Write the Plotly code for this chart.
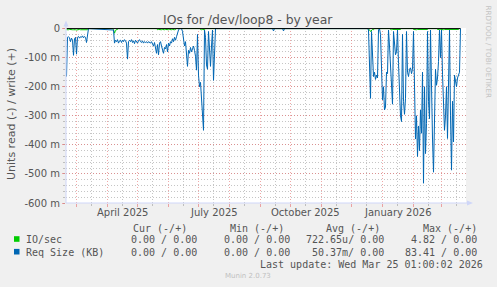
import plotly.graph_objects as go
import pandas as pd

# ---------------- data ----------------
title_text = "IOs for /dev/loop8 - by year"
y_title = "Units read (-) / write (+)"
end_time = pd.Timestamp("2026-03-25 01:00:02")
span_days = 400
start_time = end_time - pd.Timedelta(days=span_days)

y_tick_vals = [0, -100, -200, -300, -400, -500, -600]
y_tick_text = ["0", "-100 m", "-200 m", "-300 m", "-400 m", "-500 m", "-600 m"]
x_label_dates = ["2025-04-16", "2025-07-16", "2025-10-16", "2026-01-16"]
x_label_text = ["April 2025", "July 2025", "October 2025", "January 2026"]

# Req Size (KB), read direction (milli-units), daily points; segment start days
req_starts = [0, 47, 114, 206, 216, 300]
req_a = [-165, -30, -28, -32, -45, -33, -40, -92, -35, -30, -88, -30, -27, -33,
         -28, -30, -25, -32, -27, -30, -48, -20, 0]
req_b = [-5, -50, -40, -45, -38, -50, -42, -40, -48, -40, -45, -38, -42, -50,
         -105, -45, -40, -45, -38, -48, -42, -52, -40, -45, -50, -42, -38, -45,
         -48, -42, -50, -45, -48, -45, -50, -45, -48, -50, -45, -55, -60, -48,
         -70, -85, -55, -90, -50, -45, -60, -75, -85, -65, -70, -55, -80, -50,
         -60, -45, -50, -35, -45, -30, -40, -28, -15, -5, 0]
req_c = [0, 0, -10, -40, -60, -45, -90, -130, -75, -85, -65, -80, -70, -60,
         -75, -95, -143, -20, -160, -200, -185, -240, -300, -350, -5, -30,
         -125, -140, -10, -100, -130, -60, -5, -178, -90, 0]
req_d = [0, -8, 0]
req_e = [0, -8, 0]
req_f = [0, 0, -5, -120, -240, -10, -130, -165, -150, -175, -160, -170, -5, 0,
         -20, -120, -245, -200, -280, -270, -150, -155, -5, -60, -140, -200,
         -260, -10, -60, -90, -80, -5, -120, -245, -300, -320, -20, -250, -295,
         -240, -10, -150, -165, -140, -135, -155, -140, -10, -200, -380, -300,
         -440, -335, -420, -280, -360, -150, -532, -200, -430, -326, -10, -250,
         -310, -5, -260, -380, -494, -300, -140, -195, -170, -113, -5, -100, -5,
         -157, -250, -350, -300, -200, -378, -150, -5, -300, -487, -250, -390,
         -160, -180, -200, -170, -160, -150, 0]
req_segments = [req_a, req_b, req_c, req_d, req_e, req_f]

# IO/sec, read direction (milli-units); segment start days
io_starts = [0, 46, 90, 133, 301, 323, 346, 370]
io_a = [-4, -5, -4, -3, -4, -5, -4, -4, -3, -4, -5, -4, -4, -3, -4, -4, -5, -4,
        -3, -4, -4, -4, 0]
io_b = [0, -4, -16, -6, -4, -3, 0]
io_c = [0, -4, -3, -4, -5, -4, -3, -4, -4, -3, -4, -5, -4, -3, -4, -4, -3, -4,
        -4, -3, 0]
io_d = [0, -3, -4, -3, -3, -4, 0]
io_e = [0, -3, -4, -10, -4, -3, -4, 0]
io_f = [0, -3, -4, -3, -3, -4, -3, -3, -4, -3, -4, -3, 0]
io_g = [0, -3, -4, -3, -4, -3, -3, -4, -3, -4, -3, -3, -4, -3, -4, -3, 0]
io_h = [0, -3, -4, -3, -3, -4, -3, -4, -3, -3, -4, -3, -4, -3, -3, -4, -3, -4,
        -3, -3, -4, -3, -3, 0]
io_segments = [io_a, io_b, io_c, io_d, io_e, io_f, io_g, io_h]

legend_headers = ["Cur (-/+)", "Min (-/+)", "Avg (-/+)", "Max (-/+)"]
legend_names = ["IO/sec", "Req Size (KB)"]
legend_rows = [
    ["0.00 / 0.00", "0.00 / 0.00", "722.65u/ 0.00", "4.82 / 0.00"],
    ["0.00 / 0.00", "0.00 / 0.00", "50.37m/ 0.00", "83.41 / 0.00"],
]
colors = ["#00cc00", "#0066b3"]
last_update = "Last update: Wed Mar 25 01:00:02 2026"
munin_version = "Munin 2.0.73"
side_text = "RRDTOOL / TOBI OETIKER"


def build(starts, segments):
    xs, ys = [], []
    for s, seg in zip(starts, segments):
        for i, v in enumerate(seg):
            xs.append(start_time + pd.Timedelta(days=s + i + 0.5))
            ys.append(v)
    return xs, ys


io_x, io_y = build(io_starts, io_segments)
req_x, req_y = build(req_starts, req_segments)

# ---------------- layout helpers ----------------
W, H = 497, 287
L, R, T, B = 66, 466, 28, 203


def px(x):
    return (x - L) / (R - L)


def py(y):
    return (B - y) / (B - T)


FONT = "DejaVu Sans"
MONO = "DejaVu Sans Mono"
TXT = "#555555"
MAJ = "rgba(230,110,110,0.6)"
MINC = "rgba(150,150,150,0.55)"
AXC = "#cfd6f8"

fig = go.Figure()
fig.add_trace(go.Scatter(x=io_x, y=io_y, mode="lines",
                         line=dict(color=colors[0], width=1), hoverinfo="skip"))
fig.add_trace(go.Scatter(x=req_x, y=req_y, mode="lines",
                         line=dict(color=colors[1], width=1), hoverinfo="skip"))

month_starts = pd.date_range("2025-03-01", "2026-03-01", freq="MS")
mid_months = pd.date_range("2025-02-01", "2026-03-01", freq="MS") + pd.Timedelta(days=15)

fig.update_layout(
    width=W, height=H,
    margin=dict(l=L, r=W - R, t=T, b=H - B),
    paper_bgcolor="#f0f0f0", plot_bgcolor="#ffffff",
    showlegend=False,
    font=dict(family=FONT, size=10, color=TXT),
    xaxis=dict(
        type="date", range=[start_time, end_time],
        tickvals=list(month_starts), showticklabels=False,
        showgrid=True, gridcolor=MAJ, griddash="1px,2px", gridwidth=1,
        ticks="outside", ticklen=3, tickcolor=MAJ,
        minor=dict(tickvals=list(mid_months), showgrid=True, gridcolor=MINC,
                   griddash="1px,2px", ticks="outside", ticklen=2, tickcolor=MINC),
        zeroline=False, showline=False, fixedrange=True,
    ),
    yaxis=dict(
        range=[-600, 2], tickvals=y_tick_vals, ticktext=y_tick_text,
        showgrid=True, gridcolor=MAJ, griddash="1px,2px", gridwidth=1,
        ticks="outside", ticklen=3, tickcolor=MAJ,
        tickfont=dict(size=10, color=TXT, family=FONT),
        minor=dict(dtick=20, tick0=0, showgrid=True, gridcolor=MINC,
                   griddash="1px,2px", ticks="outside", ticklen=2, tickcolor=MINC),
        zeroline=False, showline=False, fixedrange=True,
    ),
)

shapes = []
# zero line over the span of the data
shapes.append(dict(type="line", xref="x", yref="y", x0=req_x[0], x1=req_x[-1],
                   y0=0, y1=0, line=dict(color="#000000", width=1), layer="above"))
# axes lines with arrows
shapes.append(dict(type="line", xref="paper", yref="paper", x0=px(66), x1=px(66),
                   y0=py(203), y1=py(25), line=dict(color=AXC, width=1)))
shapes.append(dict(type="line", xref="paper", yref="paper", x0=px(66), x1=px(469),
                   y0=py(203), y1=py(203), line=dict(color=AXC, width=1)))
shapes.append(dict(type="path", xref="paper", yref="paper",
                   path=f"M {px(63.5)} {py(26.5)} L {px(68.5)} {py(26.5)} L {px(66)} {py(20.5)} Z",
                   fillcolor=AXC, line=dict(color=AXC, width=0)))
shapes.append(dict(type="path", xref="paper", yref="paper",
                   path=f"M {px(467)} {py(200.5)} L {px(467)} {py(205.5)} L {px(473)} {py(203)} Z",
                   fillcolor=AXC, line=dict(color=AXC, width=0)))
# legend colour squares
for i, c in enumerate(colors):
    yc = 239 + 12.7 * i
    shapes.append(dict(type="rect", xref="paper", yref="paper",
                       x0=px(14), x1=px(19.5), y0=py(yc - 2.8), y1=py(yc + 2.8),
                       fillcolor=c, line=dict(width=0)))
fig.update_layout(shapes=shapes)

ann = []


def text(x, y, s, size=10, family=FONT, color=TXT, xanchor="center", angle=0):
    ann.append(dict(x=px(x), y=py(y), xref="paper", yref="paper", text=s,
                    showarrow=False, xanchor=xanchor, yanchor="middle",
                    font=dict(size=size, family=family, color=color),
                    textangle=angle, borderpad=0, borderwidth=0))


text(248, 19, title_text, size=12.4)
text(11, 114, y_title, size=11, angle=-90)
text(488.5, 52, side_text, size=7.2, color="#c4c4c4", angle=90)
for d, s in zip(x_label_dates, x_label_text):
    ann.append(dict(x=d, y=py(212), xref="x", yref="paper", text=s, showarrow=False,
                    xanchor="center", yanchor="middle", borderpad=0, borderwidth=0,
                    font=dict(size=10, family=FONT, color=TXT)))

head_right = [187, 283.5, 380, 476.5]
val_right = [197, 290, 383.5, 477]
for h, xr in zip(legend_headers, head_right):
    text(xr, 228, h, family=MONO, xanchor="right")
for r, (name, row) in enumerate(zip(legend_names, legend_rows)):
    yy = 239.5 + 12.5 * r
    text(26, yy, name, family=MONO, xanchor="left")
    for v, xr in zip(row, val_right):
        text(xr, yy, v, family=MONO, xanchor="right")
text(483, 264.5, last_update, family=MONO, xanchor="right")
text(248, 276, munin_version, size=7, color="#c0c0c0")
fig.update_layout(annotations=ann)

fig.write_html("out.html")
